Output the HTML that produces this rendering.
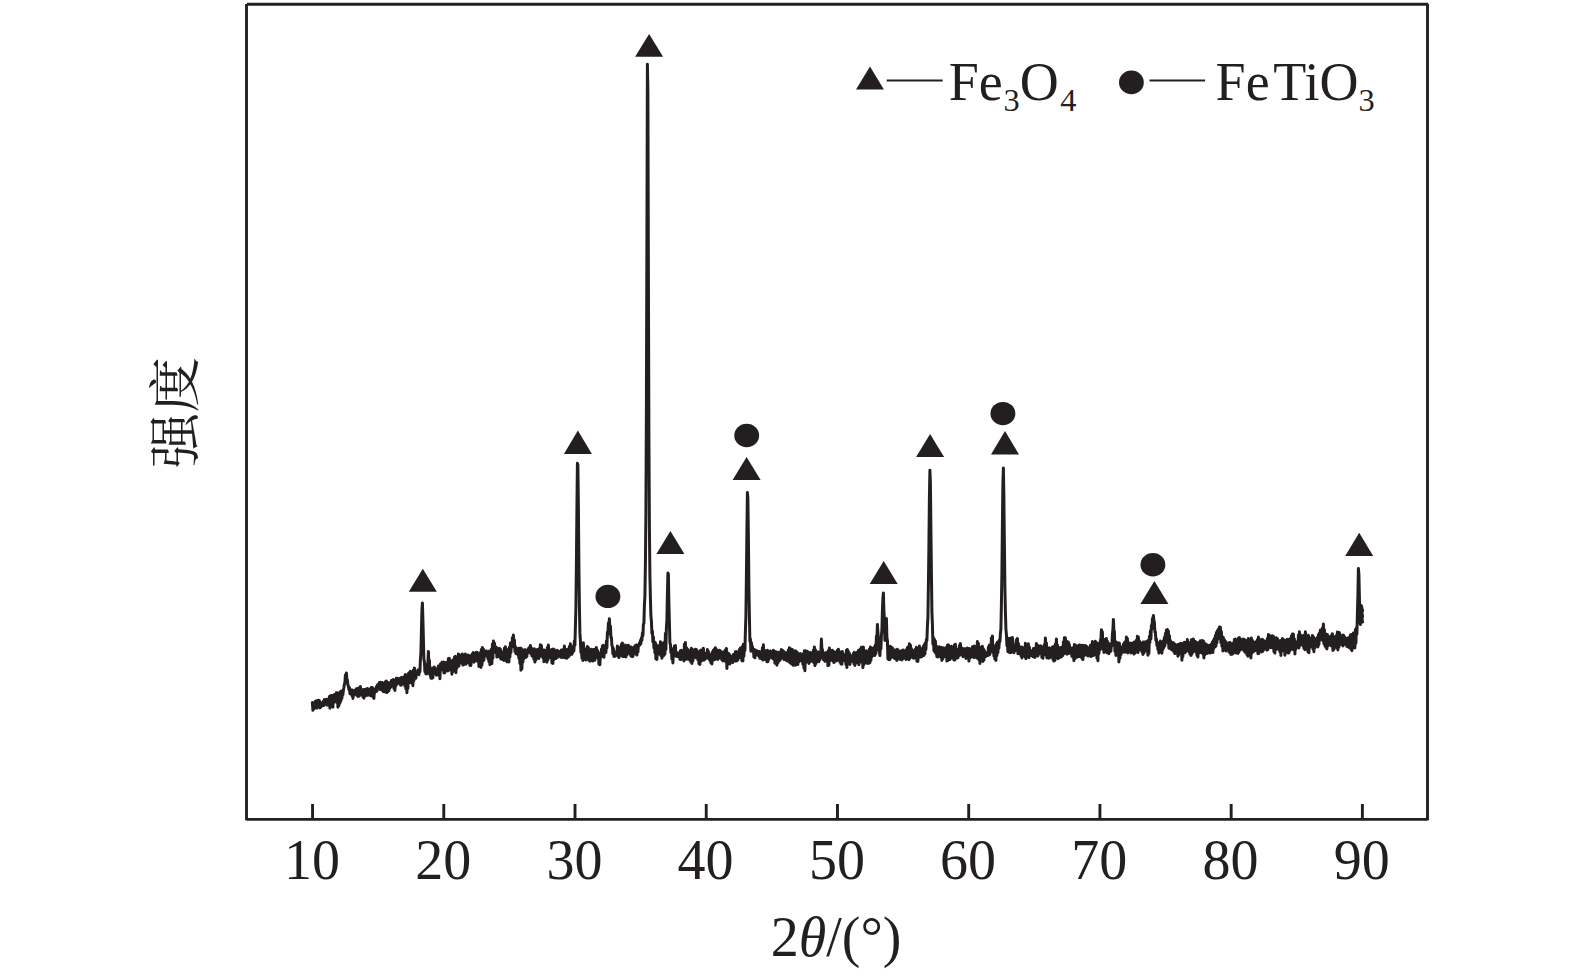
<!DOCTYPE html>
<html lang="zh">
<head>
<meta charset="utf-8">
<title>XRD</title>
<style>
html,body{margin:0;padding:0;background:#fff;}
body{width:1575px;height:978px;overflow:hidden;}
svg{display:block;}
text{font-family:"Liberation Serif","Noto Serif CJK SC",serif;fill:#231f20;}
.cjk{font-family:"Liberation Serif","Noto Serif CJK SC",serif;}
</style>
</head>
<body>
<svg width="1575" height="978" viewBox="0 0 1575 978">
<rect x="0" y="0" width="1575" height="978" fill="#ffffff"/>
<g stroke="#231f20" stroke-width="2.9" fill="none">
<line x1="246.9" y1="4.3" x2="1428.1" y2="4.3"/>
<line x1="246.5" y1="4.1" x2="246.5" y2="820.3"/>
<line x1="1427.5" y1="4.1" x2="1427.5" y2="820.3"/>
<line x1="246.5" y1="819.4" x2="1427.5" y2="819.4"/>
</g>

<g stroke="#231f20" stroke-width="2.9">
<line x1="312.55" y1="804" x2="312.55" y2="819.4"/>
<line x1="443.78" y1="804" x2="443.78" y2="819.4"/>
<line x1="575.01" y1="804" x2="575.01" y2="819.4"/>
<line x1="706.24" y1="804" x2="706.24" y2="819.4"/>
<line x1="837.47" y1="804" x2="837.47" y2="819.4"/>
<line x1="968.70" y1="804" x2="968.70" y2="819.4"/>
<line x1="1099.93" y1="804" x2="1099.93" y2="819.4"/>
<line x1="1231.16" y1="804" x2="1231.16" y2="819.4"/>
<line x1="1362.39" y1="804" x2="1362.39" y2="819.4"/>
</g>
<g font-size="56" text-anchor="middle">
<text x="311.9" y="878.7">10</text>
<text x="443.2" y="878.7">20</text>
<text x="574.4" y="878.7">30</text>
<text x="705.6" y="878.7">40</text>
<text x="836.9" y="878.7">50</text>
<text x="968.1" y="878.7">60</text>
<text x="1099.3" y="878.7">70</text>
<text x="1230.6" y="878.7">80</text>
<text x="1361.8" y="878.7">90</text>
</g>
<text x="770.7" y="955.8" font-size="56">2<tspan font-style="italic">θ</tspan>/(°)</text>
<text class="cjk" transform="translate(194.3,412.5) rotate(-90) scale(1.07,1)" font-size="52" text-anchor="middle">强度</text>
<g fill="#231f20">
<polygon points="870.0,66.4 856.0,89.5 883.9,89.5"/>
<ellipse cx="1131.4" cy="82.4" rx="12.4" ry="11.9"/>
</g>
<g stroke="#231f20" stroke-width="2">
<line x1="886.7" y1="80.4" x2="942.7" y2="80.4"/>
<line x1="1149.5" y1="80.4" x2="1205.1" y2="80.4"/>
</g>
<text x="948.7" y="99.8" font-size="54">Fe<tspan font-size="32.4" dy="10.8" dx="0.8">3</tspan><tspan dy="-10.8">O</tspan><tspan font-size="32.4" dy="10.8" dx="1.6">4</tspan></text>
<text x="1215.6" y="99.7" font-size="54">Fe<tspan dx="3.7">T</tspan>iO<tspan font-size="32.4" dy="10.8">3</tspan></text>
<g fill="#231f20">
<polygon points="422.8,568.8 408.8,591.7 436.8,591.7"/>
<polygon points="577.9,430.6 563.9,453.9 591.9,453.9"/>
<polygon points="649.1,33.9 635.1,56.8 663.1,56.8"/>
<polygon points="670.4,531.0 656.4,554.1 684.4,554.1"/>
<polygon points="746.6,456.9 732.6,480.1 760.6,480.1"/>
<polygon points="883.7,561.0 869.7,584.0 897.7,584.0"/>
<polygon points="930.1,433.9 916.1,457.1 944.1,457.1"/>
<polygon points="1005.0,431.0 991.0,454.4 1019.0,454.4"/>
<polygon points="1154.4,581.1 1140.4,603.9 1168.4,603.9"/>
<polygon points="1359.2,532.8 1345.2,555.9 1373.2,555.9"/>
<ellipse cx="607.9" cy="596.40" rx="12.45" ry="11.7"/>
<ellipse cx="746.7" cy="435.55" rx="12.45" ry="11.7"/>
<ellipse cx="1002.9" cy="413.60" rx="12.45" ry="11.7"/>
<ellipse cx="1152.9" cy="564.70" rx="12.45" ry="11.7"/>
</g>
<polyline fill="none" stroke="#231f20" stroke-width="3.0" stroke-linejoin="round" stroke-linecap="round" points="312.4,702.6 312.9,710.3 313.4,703.1 313.9,708.8 314.4,703.8 314.9,707.8 315.4,701.3 315.9,707.5 316.4,700.7 316.9,708.2 317.4,700.4 317.9,707.0 318.4,700.3 318.9,706.5 319.4,700.5 319.9,707.9 320.4,702.2 320.9,707.1 321.4,706.1 321.9,705.2 322.4,705.4 322.9,705.2 323.4,701.2 323.9,705.5 324.4,699.5 324.9,703.7 325.4,701.8 325.9,701.0 326.4,699.4 326.9,705.0 327.4,699.6 327.9,704.9 328.4,699.0 328.9,704.2 329.4,696.5 329.9,708.3 330.4,695.8 330.9,705.8 331.4,695.5 331.9,704.4 332.4,695.6 332.9,707.2 333.4,695.6 333.9,702.4 334.4,694.6 334.9,699.9 335.4,694.3 335.9,700.6 336.4,692.8 336.9,702.6 337.4,692.7 337.9,707.2 338.4,693.7 338.9,705.7 339.4,692.8 339.9,703.3 340.4,691.7 340.9,700.8 341.4,691.0 341.9,698.3 342.4,691.6 342.9,694.5 343.4,690.0 343.9,687.5 344.4,684.0 344.9,682.8 345.4,674.9 345.9,677.2 346.4,672.9 346.9,679.5 347.4,679.9 347.9,685.2 348.4,686.0 348.9,689.6 349.4,687.4 349.9,693.7 350.4,689.8 350.9,693.7 351.4,690.1 351.9,695.7 352.4,690.0 352.9,698.5 353.4,690.4 353.9,695.2 354.4,691.2 354.9,690.3 355.4,690.8 355.9,693.9 356.4,688.8 356.9,695.5 357.4,688.6 357.9,696.4 358.4,688.9 358.9,696.2 359.4,687.7 359.9,695.3 360.4,686.5 360.9,693.6 361.4,692.9 361.9,691.7 362.4,693.7 362.9,696.7 363.4,689.6 363.9,698.2 364.4,689.4 364.9,696.1 365.4,689.5 365.9,694.6 366.4,689.0 366.9,695.5 367.4,688.5 367.9,695.1 368.4,689.0 368.9,694.9 369.4,689.3 369.9,695.3 370.4,688.7 370.9,695.8 371.4,687.4 371.9,694.5 372.4,687.4 372.9,697.0 373.4,690.0 373.9,698.4 374.4,690.8 374.9,692.6 375.4,688.8 375.9,690.7 376.4,686.8 376.9,691.2 377.4,684.9 377.9,688.7 378.4,684.2 378.9,688.3 379.4,682.4 379.9,689.4 380.4,682.2 380.9,689.6 381.4,683.2 381.9,687.9 382.4,682.6 382.9,691.3 383.4,683.3 383.9,691.7 384.4,684.1 384.9,691.8 385.4,681.8 385.9,692.2 386.4,681.0 386.9,692.6 387.4,682.4 387.9,691.7 388.4,682.7 388.9,690.7 389.4,682.7 389.9,688.3 390.4,683.0 390.9,686.8 391.4,680.6 391.9,684.9 392.4,680.2 392.9,683.3 393.4,679.4 393.9,688.4 394.4,681.0 394.9,690.5 395.4,680.6 395.9,685.9 396.4,678.3 396.9,683.9 397.4,678.2 397.9,682.4 398.4,678.7 398.9,683.2 399.4,679.9 399.9,684.4 400.4,677.9 400.9,685.3 401.4,677.6 401.9,684.5 402.4,677.9 402.9,683.7 403.4,677.3 403.9,684.0 404.4,676.6 404.9,686.1 405.4,674.4 405.9,689.0 406.4,675.5 406.9,692.8 407.4,675.8 407.9,688.4 408.4,673.6 408.9,682.9 409.4,672.5 409.9,681.8 410.4,671.3 410.9,682.7 411.4,672.3 411.9,683.2 412.4,672.8 412.9,685.7 413.4,670.2 413.9,680.8 414.4,667.9 414.9,678.2 415.4,672.5 415.9,678.2 416.4,673.2 416.9,672.6 417.4,671.5 417.9,670.0 418.4,673.0 418.9,674.7 419.4,669.6 419.9,671.8 420.4,659.9 420.9,653.0 421.4,631.8 421.9,610.8 422.4,602.9 422.9,619.2 423.4,639.8 423.9,659.6 424.4,661.5 424.9,671.8 425.4,668.3 425.9,673.9 426.4,670.5 426.9,673.7 427.4,663.7 427.9,663.3 428.4,651.4 428.9,664.1 429.4,660.2 429.9,674.9 430.4,667.5 430.9,678.3 431.4,669.4 431.9,678.3 432.4,669.2 432.9,677.8 433.4,667.8 433.9,673.4 434.4,667.1 434.9,671.2 435.4,668.6 435.9,672.7 436.4,675.1 436.9,669.1 437.4,675.0 437.9,668.6 438.4,666.0 438.9,673.6 439.4,665.7 439.9,678.8 440.4,664.1 440.9,670.4 441.4,663.4 441.9,662.4 442.4,662.6 442.9,669.7 443.4,662.1 443.9,672.9 444.4,663.0 444.9,672.8 445.4,662.5 445.9,670.9 446.4,662.7 446.9,668.2 447.4,662.0 447.9,670.9 448.4,658.6 448.9,670.3 449.4,658.3 449.9,668.1 450.4,661.0 450.9,669.9 451.4,661.9 451.9,674.2 452.4,660.5 452.9,671.8 453.4,659.8 453.9,667.9 454.4,657.2 454.9,669.2 455.4,656.3 455.9,672.8 456.4,658.1 456.9,668.3 457.4,658.3 457.9,665.8 458.4,653.9 458.9,666.1 459.4,654.6 459.9,662.7 460.4,656.8 460.9,661.2 461.4,656.6 461.9,663.3 462.4,654.1 462.9,665.1 463.4,655.9 463.9,664.6 464.4,655.6 464.9,664.0 465.4,654.1 465.9,664.2 466.4,656.1 466.9,662.7 467.4,655.5 467.9,662.7 468.4,654.9 468.9,663.1 469.4,655.7 469.9,665.4 470.4,657.3 470.9,665.5 471.4,655.6 471.9,661.0 472.4,653.7 472.9,659.8 473.4,652.4 473.9,662.2 474.4,654.0 474.9,661.2 475.4,654.1 475.9,660.8 476.4,652.3 476.9,659.6 477.4,652.5 477.9,661.3 478.4,654.8 478.9,666.4 479.4,655.4 479.9,666.0 480.4,652.6 480.9,667.5 481.4,649.4 481.9,665.1 482.4,647.6 482.9,661.3 483.4,649.0 483.9,660.2 484.4,652.9 484.9,655.9 485.4,651.8 485.9,652.1 486.4,650.9 486.9,655.9 487.4,653.3 487.9,658.5 488.4,651.9 488.9,661.7 489.4,651.0 489.9,664.8 490.4,650.7 490.9,662.1 491.4,649.3 491.9,663.6 492.4,644.0 492.9,658.1 493.4,641.0 493.9,647.9 494.4,643.0 494.9,647.1 495.4,647.7 495.9,652.7 496.4,647.2 496.9,657.1 497.4,650.0 497.9,656.2 498.4,652.1 498.9,654.3 499.4,648.2 499.9,657.5 500.4,649.0 500.9,659.1 501.4,652.5 501.9,659.2 502.4,652.4 502.9,659.6 503.4,651.6 503.9,660.4 504.4,648.3 504.9,659.8 505.4,646.8 505.9,660.6 506.4,649.0 506.9,661.8 507.4,650.4 507.9,661.8 508.4,652.4 508.9,662.0 509.4,647.2 509.9,657.0 510.4,643.0 510.9,652.6 511.4,643.1 511.9,647.1 512.4,637.8 512.9,643.7 513.4,635.1 513.9,644.6 514.4,639.9 514.9,651.4 515.4,646.5 515.9,653.6 516.4,648.7 516.9,653.6 517.4,648.8 517.9,654.9 518.4,648.3 518.9,658.4 519.4,650.6 519.9,663.4 520.4,648.0 520.9,670.2 521.4,648.4 521.9,669.0 522.4,651.6 522.9,662.1 523.4,651.6 523.9,658.4 524.4,649.8 524.9,656.9 525.4,649.7 525.9,657.4 526.4,651.2 526.9,656.3 527.4,650.3 527.9,651.9 528.4,648.6 528.9,651.3 529.4,647.4 529.9,652.6 530.4,645.4 530.9,654.0 531.4,647.9 531.9,655.8 532.4,650.5 532.9,656.6 533.4,649.4 533.9,659.2 534.4,648.8 534.9,662.1 535.4,649.8 535.9,660.0 536.4,650.1 536.9,658.4 537.4,649.5 537.9,658.2 538.4,649.8 538.9,658.5 539.4,648.4 539.9,656.1 540.4,644.7 540.9,655.5 541.4,645.5 541.9,656.4 542.4,649.4 542.9,657.7 543.4,651.6 543.9,661.8 544.4,650.1 544.9,660.6 545.4,653.1 545.9,660.0 546.4,651.7 546.9,662.3 547.4,647.6 547.9,659.9 548.4,645.0 548.9,657.6 549.4,649.6 549.9,654.6 550.4,653.4 550.9,657.6 551.4,649.7 551.9,662.9 552.4,649.3 552.9,663.5 553.4,649.0 553.9,659.6 554.4,649.5 554.9,658.6 555.4,654.5 555.9,658.5 556.4,652.8 556.9,657.5 557.4,650.3 557.9,657.2 558.4,652.2 558.9,655.4 559.4,651.5 559.9,655.6 560.4,651.6 560.9,657.3 561.4,649.9 561.9,657.6 562.4,651.9 562.9,656.6 563.4,649.4 563.9,657.5 564.4,645.9 564.9,657.4 565.4,650.2 565.9,658.1 566.4,651.5 566.9,658.2 567.4,649.3 567.9,657.1 568.4,649.4 568.9,656.5 569.4,646.6 569.9,654.9 570.4,643.8 570.9,654.2 571.4,647.1 571.9,654.3 572.4,647.9 572.9,652.5 573.4,646.0 573.9,650.8 574.4,640.9 574.9,645.3 575.4,626.8 575.9,607.7 576.4,564.6 576.9,510.2 577.4,463.3 577.9,465.0 578.4,509.2 578.9,566.6 579.4,606.2 579.9,632.9 580.4,640.6 580.9,652.4 581.4,647.7 581.9,658.2 582.4,644.9 582.9,660.4 583.4,642.7 583.9,657.2 584.4,648.5 584.9,656.4 585.4,650.2 585.9,660.1 586.4,648.8 586.9,656.4 587.4,646.4 587.9,656.0 588.4,647.6 588.9,660.3 589.4,650.0 589.9,661.2 590.4,649.9 590.9,660.6 591.4,649.3 591.9,659.2 592.4,650.0 592.9,661.1 593.4,649.5 593.9,660.1 594.4,649.9 594.9,660.3 595.4,649.1 595.9,657.4 596.4,647.6 596.9,655.8 597.4,650.2 597.9,658.1 598.4,652.5 598.9,664.3 599.4,655.2 599.9,664.8 600.4,653.8 600.9,657.2 601.4,649.3 601.9,653.7 602.4,646.0 602.9,656.5 603.4,645.3 603.9,657.3 604.4,649.9 604.9,651.9 605.4,648.6 605.9,652.5 606.4,641.0 606.9,648.0 607.4,632.3 607.9,634.3 608.4,623.0 608.9,625.9 609.4,618.7 609.9,629.0 610.4,625.9 610.9,637.1 611.4,637.4 611.9,645.3 612.4,646.6 612.9,653.9 613.4,648.3 613.9,656.5 614.4,651.5 614.9,656.3 615.4,653.0 615.9,654.5 616.4,652.0 616.9,653.9 617.4,645.9 617.9,656.2 618.4,647.1 618.9,657.6 619.4,650.0 619.9,655.4 620.4,649.6 620.9,653.8 621.4,644.4 621.9,656.1 622.4,643.1 622.9,656.4 623.4,646.3 623.9,656.6 624.4,647.5 624.9,656.5 625.4,645.0 625.9,657.0 626.4,645.6 626.9,654.9 627.4,646.1 627.9,649.9 628.4,645.2 628.9,653.1 629.4,647.4 629.9,654.1 630.4,647.1 630.9,655.9 631.4,647.1 631.9,656.4 632.4,649.4 632.9,656.4 633.4,649.1 633.9,652.5 634.4,646.8 634.9,650.2 635.4,645.5 635.9,654.2 636.4,645.1 636.9,655.1 637.4,645.2 637.9,652.1 638.4,645.6 638.9,645.3 639.4,643.0 639.9,645.1 640.4,640.6 640.9,643.5 641.4,637.9 641.9,640.1 642.4,633.0 642.9,635.7 643.4,624.3 643.9,623.4 644.4,605.1 644.9,596.2 645.4,564.2 645.9,513.5 646.4,407.9 646.9,240.7 647.4,64.3 647.9,92.4 648.4,277.5 648.9,436.2 649.4,526.7 649.9,575.3 650.4,598.3 650.9,616.0 651.4,620.9 651.9,633.4 652.4,630.9 652.9,641.9 653.4,636.9 653.9,648.0 654.4,641.8 654.9,652.9 655.4,642.7 655.9,658.9 656.4,644.8 656.9,659.5 657.4,645.9 657.9,653.7 658.4,648.2 658.9,651.6 659.4,645.6 659.9,654.5 660.4,641.7 660.9,655.6 661.4,642.6 661.9,658.3 662.4,644.5 662.9,656.3 663.4,644.6 663.9,655.4 664.4,642.2 664.9,654.1 665.4,633.4 665.9,649.5 666.4,627.5 666.9,619.8 667.4,594.0 667.9,573.1 668.4,574.3 668.9,603.4 669.4,622.6 669.9,643.2 670.4,644.2 670.9,652.6 671.4,648.3 671.9,659.3 672.4,650.5 672.9,663.0 673.4,650.4 673.9,655.9 674.4,646.1 674.9,652.5 675.4,645.6 675.9,656.1 676.4,652.1 676.9,656.6 677.4,654.2 677.9,653.5 678.4,653.0 678.9,656.8 679.4,652.8 679.9,659.3 680.4,650.7 680.9,659.6 681.4,650.2 681.9,656.8 682.4,651.8 682.9,656.3 683.4,651.3 683.9,661.0 684.4,644.2 684.9,659.8 685.4,642.6 685.9,658.3 686.4,647.4 686.9,659.2 687.4,648.9 687.9,659.1 688.4,650.0 688.9,659.3 689.4,650.8 689.9,660.3 690.4,650.8 690.9,662.1 691.4,648.3 691.9,663.4 692.4,649.2 692.9,661.0 693.4,650.4 693.9,657.3 694.4,650.7 694.9,655.4 695.4,649.2 695.9,657.7 696.4,649.5 696.9,657.9 697.4,651.1 697.9,659.8 698.4,651.9 698.9,663.8 699.4,653.7 699.9,664.4 700.4,650.6 700.9,661.5 701.4,649.9 701.9,660.4 702.4,649.9 702.9,660.0 703.4,648.3 703.9,660.2 704.4,653.4 704.9,659.5 705.4,656.9 705.9,658.3 706.4,652.9 706.9,658.0 707.4,649.5 707.9,656.7 708.4,651.3 708.9,658.8 709.4,655.7 709.9,660.5 710.4,654.7 710.9,662.8 711.4,654.1 711.9,663.9 712.4,652.0 712.9,660.4 713.4,650.2 713.9,659.5 714.4,649.0 714.9,659.4 715.4,647.7 715.9,658.9 716.4,649.3 716.9,658.5 717.4,651.5 717.9,659.4 718.4,651.2 718.9,657.8 719.4,650.2 719.9,656.9 720.4,650.8 720.9,658.5 721.4,654.6 721.9,659.9 722.4,652.6 722.9,661.0 723.4,651.7 723.9,660.6 724.4,651.4 724.9,659.1 725.4,650.1 725.9,662.0 726.4,648.4 726.9,668.4 727.4,652.5 727.9,664.2 728.4,653.3 728.9,662.4 729.4,654.2 729.9,664.0 730.4,655.7 730.9,661.6 731.4,658.7 731.9,662.2 732.4,658.5 732.9,662.5 733.4,654.4 733.9,661.0 734.4,654.7 734.9,658.5 735.4,651.8 735.9,661.2 736.4,651.6 736.9,660.8 737.4,652.3 737.9,659.9 738.4,652.9 738.9,657.7 739.4,649.6 739.9,655.3 740.4,648.0 740.9,657.9 741.4,648.9 741.9,660.7 742.4,646.4 742.9,660.9 743.4,644.3 743.9,656.3 744.4,643.9 744.9,650.5 745.4,631.4 745.9,616.2 746.4,576.6 746.9,530.6 747.4,492.5 747.9,498.6 748.4,538.0 748.9,587.1 749.4,616.8 749.9,641.4 750.4,638.9 750.9,651.3 751.4,642.5 751.9,647.6 752.4,646.4 752.9,650.0 753.4,649.0 753.9,656.9 754.4,649.4 754.9,657.8 755.4,649.9 755.9,654.8 756.4,650.6 756.9,653.4 757.4,651.7 757.9,655.2 758.4,651.5 758.9,656.2 759.4,651.6 759.9,658.3 760.4,652.1 760.9,658.3 761.4,652.4 761.9,659.0 762.4,647.7 762.9,660.1 763.4,644.7 763.9,659.3 764.4,650.0 764.9,657.4 765.4,650.9 765.9,659.9 766.4,651.5 766.9,661.8 767.4,650.3 767.9,661.7 768.4,651.0 768.9,659.5 769.4,651.3 769.9,656.1 770.4,651.1 770.9,656.8 771.4,653.1 771.9,657.8 772.4,651.6 772.9,658.7 773.4,650.2 773.9,659.3 774.4,651.1 774.9,663.2 775.4,652.3 775.9,663.3 776.4,652.0 776.9,665.3 777.4,652.3 777.9,663.0 778.4,652.5 778.9,661.1 779.4,652.4 779.9,660.3 780.4,651.7 780.9,658.6 781.4,649.5 781.9,657.4 782.4,650.2 782.9,658.2 783.4,651.1 783.9,659.4 784.4,651.9 784.9,659.3 785.4,652.7 785.9,660.1 786.4,652.7 786.9,660.8 787.4,652.4 787.9,661.0 788.4,649.9 788.9,661.8 789.4,647.7 789.9,662.8 790.4,648.5 790.9,663.5 791.4,650.9 791.9,662.2 792.4,649.4 792.9,665.3 793.4,653.2 793.9,665.3 794.4,652.6 794.9,664.1 795.4,650.8 795.9,665.1 796.4,651.5 796.9,664.0 797.4,652.6 797.9,664.5 798.4,654.7 798.9,661.7 799.4,653.9 799.9,660.6 800.4,653.5 800.9,659.7 801.4,654.9 801.9,661.3 802.4,657.1 802.9,664.4 803.4,653.7 803.9,668.1 804.4,650.8 804.9,670.8 805.4,650.8 805.9,662.6 806.4,651.3 806.9,656.9 807.4,651.2 807.9,661.5 808.4,652.6 808.9,663.4 809.4,652.9 809.9,662.0 810.4,652.5 810.9,658.9 811.4,652.7 811.9,661.0 812.4,652.6 812.9,661.6 813.4,650.3 813.9,662.8 814.4,646.9 814.9,665.6 815.4,649.8 815.9,663.6 816.4,652.6 816.9,659.7 817.4,651.9 817.9,661.6 818.4,652.1 818.9,661.7 819.4,655.7 819.9,659.7 820.4,651.9 820.9,651.3 821.4,639.0 821.9,650.1 822.4,649.5 822.9,657.9 823.4,659.6 823.9,659.2 824.4,658.8 824.9,661.3 825.4,652.7 825.9,660.1 826.4,652.5 826.9,660.3 827.4,652.4 827.9,665.7 828.4,650.7 828.9,665.3 829.4,648.1 829.9,660.8 830.4,651.0 830.9,656.9 831.4,651.4 831.9,658.8 832.4,650.2 832.9,661.2 833.4,651.2 833.9,662.6 834.4,652.3 834.9,660.5 835.4,652.3 835.9,661.0 836.4,653.7 836.9,660.7 837.4,650.3 837.9,658.0 838.4,649.2 838.9,657.9 839.4,652.7 839.9,662.2 840.4,652.0 840.9,664.0 841.4,651.8 841.9,664.2 842.4,651.6 842.9,660.5 843.4,656.2 843.9,659.6 844.4,658.9 844.9,660.9 845.4,654.3 845.9,664.5 846.4,650.2 846.9,667.5 847.4,649.4 847.9,663.9 848.4,651.4 848.9,661.6 849.4,653.2 849.9,664.5 850.4,655.4 850.9,661.9 851.4,655.9 851.9,658.8 852.4,657.2 852.9,660.4 853.4,653.4 853.9,663.8 854.4,652.2 854.9,665.5 855.4,652.9 855.9,663.2 856.4,654.5 856.9,662.7 857.4,652.3 857.9,662.8 858.4,650.4 858.9,664.8 859.4,650.0 859.9,660.5 860.4,648.9 860.9,659.5 861.4,647.2 861.9,662.5 862.4,648.0 862.9,667.6 863.4,647.1 863.9,664.8 864.4,651.0 864.9,662.6 865.4,651.6 865.9,662.0 866.4,650.7 866.9,663.3 867.4,652.0 867.9,663.5 868.4,652.0 868.9,663.2 869.4,649.3 869.9,662.8 870.4,647.1 870.9,660.5 871.4,647.8 871.9,656.7 872.4,648.6 872.9,655.7 873.4,648.2 873.9,655.3 874.4,647.1 874.9,655.5 875.4,645.0 875.9,653.4 876.4,636.3 876.9,638.2 877.4,624.5 877.9,632.1 878.4,638.3 878.9,650.4 879.4,650.9 879.9,655.6 880.4,644.8 880.9,649.0 881.4,635.7 881.9,630.1 882.4,611.1 882.9,598.1 883.4,592.9 883.9,611.6 884.4,619.4 884.9,640.4 885.4,628.5 885.9,631.4 886.4,618.4 886.9,637.9 887.4,640.3 887.9,658.9 888.4,648.9 888.9,659.8 889.4,647.9 889.9,659.5 890.4,646.2 890.9,657.6 891.4,648.3 891.9,654.4 892.4,647.8 892.9,656.2 893.4,649.4 893.9,657.9 894.4,653.1 894.9,658.6 895.4,650.0 895.9,659.1 896.4,650.0 896.9,660.5 897.4,649.2 897.9,657.0 898.4,650.3 898.9,658.4 899.4,653.1 899.9,659.3 900.4,651.3 900.9,658.6 901.4,651.1 901.9,659.9 902.4,650.3 902.9,658.6 903.4,650.1 903.9,654.0 904.4,651.2 904.9,654.9 905.4,652.5 905.9,659.5 906.4,649.8 906.9,659.0 907.4,647.5 907.9,657.7 908.4,646.7 908.9,659.7 909.4,643.8 909.9,658.4 910.4,644.9 910.9,653.3 911.4,648.6 911.9,655.1 912.4,650.0 912.9,657.7 913.4,651.4 913.9,658.3 914.4,653.4 914.9,657.4 915.4,649.2 915.9,656.4 916.4,647.2 916.9,661.3 917.4,648.8 917.9,661.4 918.4,648.5 918.9,657.2 919.4,646.1 919.9,657.0 920.4,648.0 920.9,657.0 921.4,652.9 921.9,656.5 922.4,649.4 922.9,655.7 923.4,646.3 923.9,655.4 924.4,644.6 924.9,653.9 925.4,642.9 925.9,649.4 926.4,639.4 926.9,640.7 927.4,626.3 927.9,617.8 928.4,585.1 928.9,547.4 929.4,497.7 929.9,470.2 930.4,482.6 930.9,528.7 931.4,572.3 931.9,611.7 932.4,624.1 932.9,644.1 933.4,637.4 933.9,650.8 934.4,639.3 934.9,652.3 935.4,641.0 935.9,653.6 936.4,645.9 936.9,656.8 937.4,650.8 937.9,656.9 938.4,648.1 938.9,656.0 939.4,646.7 939.9,655.8 940.4,647.2 940.9,657.4 941.4,647.6 941.9,660.5 942.4,648.1 942.9,658.7 943.4,647.8 943.9,656.2 944.4,648.4 944.9,656.3 945.4,648.0 945.9,656.9 946.4,647.6 946.9,660.9 947.4,645.3 947.9,660.5 948.4,644.7 948.9,659.3 949.4,647.2 949.9,659.6 950.4,646.5 950.9,658.2 951.4,646.2 951.9,657.8 952.4,649.4 952.9,658.4 953.4,648.4 953.9,659.9 954.4,644.9 954.9,660.0 955.4,644.3 955.9,658.3 956.4,648.8 956.9,658.0 957.4,652.9 957.9,657.8 958.4,648.9 958.9,655.8 959.4,645.7 959.9,655.3 960.4,643.5 960.9,653.2 961.4,647.4 961.9,654.4 962.4,648.8 962.9,656.7 963.4,648.8 963.9,654.5 964.4,648.8 964.9,656.1 965.4,649.9 965.9,658.4 966.4,648.6 966.9,657.9 967.4,647.9 967.9,658.2 968.4,648.6 968.9,661.1 969.4,648.4 969.9,658.1 970.4,650.6 970.9,657.2 971.4,650.9 971.9,656.5 972.4,646.7 972.9,656.8 973.4,647.8 973.9,657.7 974.4,646.0 974.9,657.2 975.4,647.0 975.9,657.0 976.4,648.2 976.9,658.1 977.4,641.5 977.9,657.5 978.4,643.2 978.9,659.9 979.4,647.3 979.9,663.4 980.4,648.0 980.9,660.7 981.4,646.9 981.9,660.8 982.4,646.2 982.9,661.5 983.4,648.8 983.9,660.1 984.4,650.4 984.9,656.4 985.4,652.4 985.9,656.6 986.4,653.9 986.9,655.2 987.4,654.0 987.9,655.5 988.4,647.1 988.9,655.0 989.4,644.9 989.9,654.4 990.4,644.7 990.9,651.2 991.4,637.9 991.9,645.4 992.4,635.9 992.9,652.3 993.4,645.3 993.9,656.3 994.4,646.4 994.9,659.1 995.4,646.5 995.9,660.5 996.4,644.0 996.9,655.6 997.4,642.3 997.9,652.7 998.4,641.4 998.9,648.2 999.4,639.9 999.9,641.7 1000.4,633.7 1000.9,629.0 1001.4,604.0 1001.9,573.4 1002.4,525.2 1002.9,483.1 1003.4,467.9 1003.9,499.0 1004.4,544.3 1004.9,587.6 1005.4,611.7 1005.9,629.0 1006.4,634.3 1006.9,645.8 1007.4,641.5 1007.9,651.6 1008.4,639.7 1008.9,652.2 1009.4,638.2 1009.9,652.8 1010.4,638.2 1010.9,652.6 1011.4,638.3 1011.9,648.5 1012.4,637.6 1012.9,643.9 1013.4,644.9 1013.9,652.8 1014.4,648.0 1014.9,650.9 1015.4,644.9 1015.9,648.7 1016.4,639.8 1016.9,650.5 1017.4,638.5 1017.9,653.7 1018.4,643.3 1018.9,653.1 1019.4,646.6 1019.9,653.6 1020.4,648.9 1020.9,655.7 1021.4,647.0 1021.9,657.9 1022.4,647.3 1022.9,655.9 1023.4,650.4 1023.9,655.6 1024.4,648.4 1024.9,656.9 1025.4,643.3 1025.9,658.7 1026.4,646.8 1026.9,655.2 1027.4,645.1 1027.9,654.7 1028.4,643.7 1028.9,657.7 1029.4,647.1 1029.9,655.6 1030.4,650.8 1030.9,654.8 1031.4,652.6 1031.9,655.7 1032.4,650.5 1032.9,656.7 1033.4,648.5 1033.9,656.8 1034.4,649.9 1034.9,657.5 1035.4,647.9 1035.9,655.9 1036.4,643.5 1036.9,655.5 1037.4,644.9 1037.9,655.9 1038.4,646.8 1038.9,654.2 1039.4,648.1 1039.9,653.3 1040.4,645.7 1040.9,653.5 1041.4,646.3 1041.9,657.4 1042.4,648.0 1042.9,658.3 1043.4,649.4 1043.9,654.3 1044.4,644.8 1044.9,650.9 1045.4,637.9 1045.9,655.1 1046.4,642.8 1046.9,658.0 1047.4,648.9 1047.9,657.1 1048.4,650.3 1048.9,658.2 1049.4,647.8 1049.9,657.6 1050.4,648.4 1050.9,655.6 1051.4,649.2 1051.9,656.6 1052.4,647.1 1052.9,659.5 1053.4,646.4 1053.9,661.1 1054.4,646.9 1054.9,660.5 1055.4,644.1 1055.9,657.7 1056.4,638.9 1056.9,656.5 1057.4,644.7 1057.9,658.7 1058.4,648.8 1058.9,658.0 1059.4,649.9 1059.9,655.7 1060.4,647.5 1060.9,657.2 1061.4,647.4 1061.9,656.3 1062.4,647.0 1062.9,655.4 1063.4,641.9 1063.9,653.8 1064.4,637.8 1064.9,652.4 1065.4,637.8 1065.9,653.3 1066.4,640.9 1066.9,654.2 1067.4,642.4 1067.9,653.6 1068.4,641.9 1068.9,653.4 1069.4,644.6 1069.9,651.2 1070.4,647.5 1070.9,652.0 1071.4,649.5 1071.9,656.3 1072.4,648.2 1072.9,657.2 1073.4,647.5 1073.9,660.7 1074.4,644.6 1074.9,658.8 1075.4,645.0 1075.9,656.5 1076.4,647.2 1076.9,657.2 1077.4,647.4 1077.9,656.5 1078.4,645.4 1078.9,656.7 1079.4,645.0 1079.9,656.6 1080.4,645.2 1080.9,656.2 1081.4,645.4 1081.9,658.4 1082.4,645.3 1082.9,659.6 1083.4,645.5 1083.9,655.6 1084.4,646.1 1084.9,654.4 1085.4,645.4 1085.9,654.9 1086.4,646.1 1086.9,653.5 1087.4,647.2 1087.9,656.0 1088.4,650.5 1088.9,655.5 1089.4,648.1 1089.9,655.5 1090.4,645.3 1090.9,656.6 1091.4,644.7 1091.9,655.3 1092.4,641.5 1092.9,655.8 1093.4,642.8 1093.9,655.2 1094.4,643.0 1094.9,654.2 1095.4,641.3 1095.9,652.9 1096.4,643.4 1096.9,658.2 1097.4,643.1 1097.9,660.8 1098.4,643.6 1098.9,653.6 1099.4,643.8 1099.9,649.8 1100.4,640.0 1100.9,640.2 1101.4,629.7 1101.9,631.1 1102.4,632.1 1102.9,649.2 1103.4,641.1 1103.9,652.5 1104.4,641.2 1104.9,649.9 1105.4,639.3 1105.9,650.6 1106.4,638.4 1106.9,652.7 1107.4,641.2 1107.9,652.8 1108.4,643.0 1108.9,653.7 1109.4,644.5 1109.9,651.7 1110.4,646.3 1110.9,651.2 1111.4,643.5 1111.9,645.8 1112.4,634.1 1112.9,629.8 1113.4,619.4 1113.9,631.1 1114.4,631.5 1114.9,651.5 1115.4,641.2 1115.9,655.5 1116.4,642.2 1116.9,652.4 1117.4,642.8 1117.9,655.2 1118.4,642.9 1118.9,661.9 1119.4,643.0 1119.9,658.5 1120.4,646.6 1120.9,654.7 1121.4,648.9 1121.9,652.6 1122.4,647.1 1122.9,652.1 1123.4,644.2 1123.9,651.7 1124.4,642.8 1124.9,652.2 1125.4,641.8 1125.9,651.8 1126.4,637.0 1126.9,652.2 1127.4,638.4 1127.9,652.9 1128.4,642.8 1128.9,650.3 1129.4,643.1 1129.9,651.6 1130.4,643.2 1130.9,653.0 1131.4,643.3 1131.9,651.9 1132.4,645.1 1132.9,652.7 1133.4,642.8 1133.9,654.1 1134.4,642.1 1134.9,653.1 1135.4,642.7 1135.9,649.3 1136.4,640.2 1136.9,650.3 1137.4,636.3 1137.9,652.6 1138.4,637.1 1138.9,650.5 1139.4,640.9 1139.9,645.3 1140.4,642.6 1140.9,649.7 1141.4,643.6 1141.9,651.8 1142.4,642.8 1142.9,654.4 1143.4,642.1 1143.9,653.1 1144.4,642.0 1144.9,649.7 1145.4,643.1 1145.9,649.0 1146.4,641.6 1146.9,651.4 1147.4,641.1 1147.9,655.3 1148.4,640.3 1148.9,653.4 1149.4,636.6 1149.9,642.5 1150.4,630.9 1150.9,639.0 1151.4,625.5 1151.9,628.9 1152.4,618.9 1152.9,618.1 1153.4,615.5 1153.9,620.9 1154.4,622.0 1154.9,632.2 1155.4,631.8 1155.9,640.3 1156.4,638.9 1156.9,645.3 1157.4,642.3 1157.9,649.5 1158.4,645.1 1158.9,653.1 1159.4,644.0 1159.9,650.7 1160.4,641.1 1160.9,650.6 1161.4,642.6 1161.9,653.2 1162.4,643.4 1162.9,649.3 1163.4,640.8 1163.9,647.4 1164.4,637.4 1164.9,645.6 1165.4,633.5 1165.9,642.3 1166.4,629.9 1166.9,640.4 1167.4,629.6 1167.9,643.0 1168.4,631.0 1168.9,648.2 1169.4,635.4 1169.9,648.2 1170.4,640.3 1170.9,649.1 1171.4,642.4 1171.9,649.9 1172.4,642.6 1172.9,647.9 1173.4,642.8 1173.9,651.9 1174.4,645.3 1174.9,653.6 1175.4,644.2 1175.9,652.8 1176.4,646.0 1176.9,653.2 1177.4,645.4 1177.9,656.2 1178.4,644.3 1178.9,654.4 1179.4,644.0 1179.9,651.6 1180.4,643.6 1180.9,653.3 1181.4,643.4 1181.9,660.3 1182.4,643.7 1182.9,656.4 1183.4,644.8 1183.9,652.9 1184.4,642.3 1184.9,652.8 1185.4,643.3 1185.9,651.6 1186.4,642.2 1186.9,645.9 1187.4,639.5 1187.9,645.5 1188.4,643.0 1188.9,651.6 1189.4,646.2 1189.9,654.1 1190.4,642.6 1190.9,655.4 1191.4,639.7 1191.9,654.2 1192.4,640.3 1192.9,652.1 1193.4,639.0 1193.9,649.6 1194.4,641.7 1194.9,651.0 1195.4,641.6 1195.9,652.3 1196.4,642.3 1196.9,655.5 1197.4,642.7 1197.9,657.1 1198.4,644.3 1198.9,653.1 1199.4,642.3 1199.9,652.1 1200.4,640.7 1200.9,652.6 1201.4,642.1 1201.9,652.6 1202.4,640.4 1202.9,654.2 1203.4,640.9 1203.9,657.9 1204.4,642.7 1204.9,654.8 1205.4,644.8 1205.9,652.1 1206.4,644.3 1206.9,653.5 1207.4,645.4 1207.9,652.9 1208.4,647.9 1208.9,652.7 1209.4,645.3 1209.9,653.1 1210.4,644.9 1210.9,651.1 1211.4,644.2 1211.9,652.4 1212.4,642.0 1212.9,652.5 1213.4,640.4 1213.9,648.2 1214.4,638.6 1214.9,646.9 1215.4,635.4 1215.9,646.2 1216.4,632.5 1216.9,642.9 1217.4,630.7 1217.9,639.1 1218.4,629.2 1218.9,635.1 1219.4,627.1 1219.9,637.3 1220.4,627.2 1220.9,642.6 1221.4,631.6 1221.9,646.3 1222.4,636.6 1222.9,651.0 1223.4,637.5 1223.9,650.3 1224.4,639.8 1224.9,650.0 1225.4,641.2 1225.9,651.0 1226.4,642.5 1226.9,649.6 1227.4,644.7 1227.9,647.9 1228.4,643.5 1228.9,651.8 1229.4,642.5 1229.9,653.0 1230.4,642.7 1230.9,654.5 1231.4,645.0 1231.9,654.3 1232.4,645.9 1232.9,653.8 1233.4,642.9 1233.9,652.1 1234.4,639.4 1234.9,652.3 1235.4,639.1 1235.9,653.0 1236.4,641.8 1236.9,652.1 1237.4,639.7 1237.9,653.4 1238.4,638.3 1238.9,652.2 1239.4,637.6 1239.9,649.1 1240.4,639.0 1240.9,649.7 1241.4,640.0 1241.9,646.0 1242.4,639.6 1242.9,648.8 1243.4,638.9 1243.9,650.7 1244.4,639.7 1244.9,652.3 1245.4,639.9 1245.9,651.7 1246.4,641.5 1246.9,654.6 1247.4,642.4 1247.9,656.3 1248.4,638.6 1248.9,653.4 1249.4,639.5 1249.9,655.0 1250.4,639.7 1250.9,657.9 1251.4,638.0 1251.9,653.3 1252.4,640.2 1252.9,650.7 1253.4,641.8 1253.9,651.4 1254.4,643.8 1254.9,650.7 1255.4,642.2 1255.9,650.2 1256.4,641.4 1256.9,649.7 1257.4,639.8 1257.9,653.8 1258.4,637.0 1258.9,653.5 1259.4,638.9 1259.9,650.5 1260.4,640.4 1260.9,650.3 1261.4,640.3 1261.9,651.9 1262.4,639.2 1262.9,651.2 1263.4,640.2 1263.9,649.6 1264.4,641.0 1264.9,647.2 1265.4,641.8 1265.9,649.0 1266.4,641.0 1266.9,650.2 1267.4,638.6 1267.9,649.6 1268.4,634.6 1268.9,647.3 1269.4,635.3 1269.9,647.3 1270.4,636.4 1270.9,647.8 1271.4,637.7 1271.9,644.9 1272.4,635.8 1272.9,647.6 1273.4,636.3 1273.9,651.6 1274.4,638.7 1274.9,653.1 1275.4,638.2 1275.9,649.3 1276.4,637.8 1276.9,646.8 1277.4,638.5 1277.9,649.1 1278.4,641.4 1278.9,649.6 1279.4,640.8 1279.9,652.0 1280.4,640.4 1280.9,655.5 1281.4,640.3 1281.9,650.9 1282.4,638.6 1282.9,648.9 1283.4,639.7 1283.9,651.0 1284.4,640.1 1284.9,655.2 1285.4,640.5 1285.9,651.3 1286.4,640.2 1286.9,649.2 1287.4,639.2 1287.9,652.9 1288.4,639.6 1288.9,653.0 1289.4,640.4 1289.9,650.8 1290.4,638.6 1290.9,649.1 1291.4,636.0 1291.9,649.1 1292.4,634.1 1292.9,649.4 1293.4,634.0 1293.9,648.8 1294.4,638.7 1294.9,653.9 1295.4,642.5 1295.9,648.9 1296.4,642.8 1296.9,646.5 1297.4,641.5 1297.9,647.1 1298.4,635.3 1298.9,648.0 1299.4,631.7 1299.9,645.6 1300.4,634.8 1300.9,642.6 1301.4,637.0 1301.9,643.3 1302.4,635.7 1302.9,645.6 1303.4,636.7 1303.9,648.4 1304.4,634.9 1304.9,649.7 1305.4,631.7 1305.9,645.6 1306.4,636.4 1306.9,646.1 1307.4,638.2 1307.9,651.7 1308.4,635.3 1308.9,652.7 1309.4,637.6 1309.9,647.3 1310.4,641.5 1310.9,643.5 1311.4,640.0 1311.9,645.5 1312.4,635.6 1312.9,648.9 1313.4,636.7 1313.9,651.7 1314.4,638.2 1314.9,647.8 1315.4,640.0 1315.9,645.8 1316.4,639.6 1316.9,645.1 1317.4,637.4 1317.9,647.0 1318.4,634.7 1318.9,644.8 1319.4,633.1 1319.9,640.1 1320.4,629.9 1320.9,638.6 1321.4,629.8 1321.9,639.0 1322.4,628.1 1322.9,641.0 1323.4,624.1 1323.9,643.8 1324.4,629.6 1324.9,646.0 1325.4,633.6 1325.9,647.4 1326.4,634.7 1326.9,649.0 1327.4,634.6 1327.9,645.9 1328.4,636.2 1328.9,644.2 1329.4,638.5 1329.9,644.5 1330.4,638.6 1330.9,645.7 1331.4,635.5 1331.9,645.9 1332.4,633.8 1332.9,650.5 1333.4,636.2 1333.9,649.5 1334.4,638.3 1334.9,646.7 1335.4,637.2 1335.9,647.1 1336.4,635.4 1336.9,647.9 1337.4,632.1 1337.9,649.9 1338.4,632.7 1338.9,647.1 1339.4,632.5 1339.9,640.6 1340.4,634.7 1340.9,639.3 1341.4,638.1 1341.9,644.8 1342.4,636.9 1342.9,645.9 1343.4,635.0 1343.9,644.3 1344.4,636.4 1344.9,643.7 1345.4,638.8 1345.9,644.7 1346.4,639.5 1346.9,646.5 1347.4,638.1 1347.9,646.1 1348.4,638.5 1348.9,647.4 1349.4,637.4 1349.9,647.0 1350.4,634.9 1350.9,649.2 1351.4,634.5 1351.9,650.8 1352.4,635.0 1352.9,646.4 1353.4,633.0 1353.9,647.8 1354.4,633.2 1354.9,648.0 1355.4,629.5 1355.9,643.3 1356.4,628.1 1356.9,634.1 1357.4,612.7 1357.9,595.5 1358.4,568.6 1358.9,574.4 1359.4,597.0 1359.9,621.3 1360.4,624.4 1360.9,605.2 1361.4,605.9 1361.9,608.0 1362.4,610.2 1362.6,610.0 1361.8,613.0 1362.6,616.0 1362.0,619.0 1362.6,622.0"/>
</svg>
</body>
</html>
